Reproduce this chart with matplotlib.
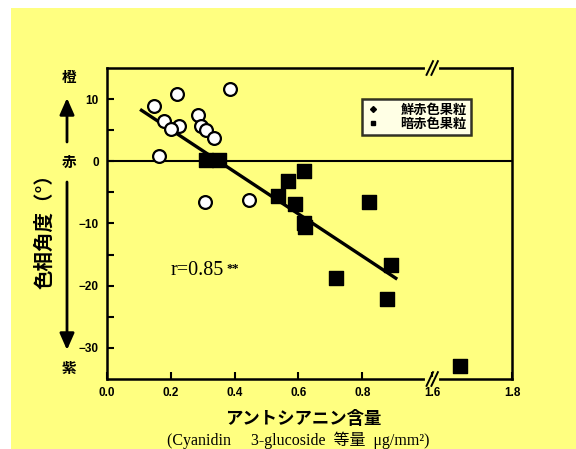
import numpy as np
import matplotlib
matplotlib.use("Agg")
from matplotlib import pyplot as plt
from matplotlib.patches import Rectangle
from matplotlib.lines import Line2D

# 鮮赤色果粒 (open markers)
bright_x = [0.218, 0.384, 0.148, 0.179, 0.225, 0.202, 0.284, 0.296, 0.309, 0.335, 0.164, 0.307, 0.444]
bright_y = [10.9, 11.6, 8.9, 6.5, 5.6, 5.2, 7.4, 5.6, 5.1, 3.8, 0.9, -6.6, -6.2]

# 暗赤色果粒 (filled squares)
dark_x = [0.309, 0.350, 0.567, 0.537, 0.588, 0.617, 0.617, 0.620, 0.820, 0.718, 0.890, 0.876, 1.670]
dark_y = [0.2, 0.2, -3.2, -5.5, -6.8, -1.6, -9.9, -10.6, -6.5, -18.7, -16.6, -22.1, -32.9]

# regression line
fit_x = [0.108, 0.905]
fit_y = [8.2, -18.8]

xticks = [0.0, 0.2, 0.4, 0.6, 0.8, 1.6, 1.8]
xtick_labels = ["0.0", "0.2", "0.4", "0.6", "0.8", "1.6", "1.8"]
yticks = [10, 0, -10, -20, -30]

YELLOW = "#ffff80"
CJK = ["Noto Sans CJK JP", "DejaVu Sans"]

# broken x axis: 1.0 -> 1.6 squeezed
brk_data = [0.0, 1.0, 1.6, 1.8]
brk_disp = [0.0, 1.0, 1.019, 1.269]


def fwd(x):
    return np.interp(x, brk_data, brk_disp, left=-1e9, right=1e9)


def inv(u):
    return np.interp(u, brk_disp, brk_data)


fig = plt.figure(figsize=(5.76, 4.49), dpi=100)
fig.patch.set_facecolor("white")
fig.patches.append(Rectangle((11 / 576, 0), 1, 1 - 8 / 449, transform=fig.transFigure,
                             facecolor=YELLOW, edgecolor="none", zorder=-10))

ax = fig.add_axes([107 / 576, 1 - 379 / 449, 405 / 576, 311 / 449])
ax.set_facecolor(YELLOW)
ax.set_xscale("function", functions=(fwd, inv))
ax.set_xlim(0, 1.8)
ax.set_ylim(-35, 15)

ax.axhline(0, color="black", lw=1.5, zorder=2)
ax.plot(fit_x, fit_y, color="black", lw=2.4, zorder=3)
ax.scatter(bright_x, bright_y, s=85, marker="o", facecolor="white", edgecolor="black",
           linewidth=1.6, zorder=4)
ax.scatter(dark_x, dark_y, s=95, marker="s", facecolor="black", edgecolor="black", zorder=4)

for s in ax.spines.values():
    s.set_linewidth(1.8)
ax.set_xticks(xticks)
ax.set_xticklabels(xtick_labels)
ax.set_yticks(yticks)
ax.set_yticks([5, -5, -15, -25], minor=True)
ax.xaxis.set_minor_locator(matplotlib.ticker.NullLocator())
ax.tick_params(direction="in", length=5, width=1.5, pad=6)
ax.tick_params(which="minor", direction="in", length=5, width=1.5)
for lab in ax.get_xticklabels() + ax.get_yticklabels():
    lab.set_fontfamily("Liberation Sans")
    lab.set_fontweight("bold")
    lab.set_fontsize(8.5)

# axis break marks
xb = fwd(1.6) / fwd(1.8)
for yb in (0, 1):
    ax.plot([xb - 0.012, xb + 0.012], [yb, yb], transform=ax.transAxes, color=YELLOW,
            lw=3, clip_on=False, zorder=5)
    for dx in (-0.006, 0.006):
        ax.plot([xb + dx - 0.008, xb + dx + 0.008], [yb - 0.022, yb + 0.022],
                transform=ax.transAxes, color="black", lw=1.4, clip_on=False, zorder=6)

# correlation text
t = ax.text(0.2, -17.6, "r=0.85", family="Liberation Serif", fontsize=14.5, va="center")
ax.annotate("**", xy=(1, 1), xycoords=t, xytext=(2, -1), textcoords="offset points",
            va="top", ha="left", family="Liberation Serif", fontsize=9, fontweight="bold")

# legend
handles = [Line2D([], [], marker="D", color="black", ls="none", markersize=3),
           Line2D([], [], marker="s", color="black", ls="none", markersize=3.5)]
leg = ax.legend(handles, ["鮮赤色果粒", "暗赤色果粒"], loc="upper left",
                bbox_to_anchor=(0.63, 0.9), prop={"family": CJK, "size": 9.5, "weight": "bold"},
                frameon=True, fancybox=False, handlelength=1.0, handletextpad=1.6,
                labelspacing=0.0, borderpad=0.3, borderaxespad=0)
leg.get_frame().set_edgecolor("black")
leg.get_frame().set_linewidth(1.8)
leg.get_frame().set_facecolor("white")


def fx(px):
    return px / 576


def fy(py):
    return 1 - py / 449


# y-axis labels
fig.text(fx(45), fy(227), "色相角度（°）", rotation=90, ha="center", va="center",
         family=CJK, fontsize=14, fontweight="bold")
for py, ch in [(77, "橙"), (162, "赤"), (368, "紫")]:
    fig.text(fx(69), fy(py), ch, ha="center", va="center", family=CJK, fontsize=10.5,
             fontweight="bold")
arrow = dict(arrowstyle="-|>,head_length=0.5,head_width=0.22", color="black", lw=2,
             shrinkA=0, shrinkB=0)
fig.add_artist(matplotlib.patches.FancyArrowPatch((fx(67), fy(142)), (fx(67), fy(98)),
                                                  transform=fig.transFigure,
                                                  mutation_scale=20, **arrow))
fig.add_artist(matplotlib.patches.FancyArrowPatch((fx(67), fy(182)), (fx(67), fy(350)),
                                                  transform=fig.transFigure,
                                                  mutation_scale=20, **arrow))

# x-axis labels
fig.text(fx(303), fy(419), "アントシアニン含量", ha="center", va="center", family=CJK,
         fontsize=12.5, fontweight="bold")
fig.text(fx(298), fy(440), "(Cyanidin\u3000 3-glucoside  等量  μg/mm²)", ha="center",
         va="center", family=["Liberation Serif", "Noto Sans CJK JP"], fontsize=11.5)

fig.savefig("out.png", dpi=100, facecolor=fig.get_facecolor())
